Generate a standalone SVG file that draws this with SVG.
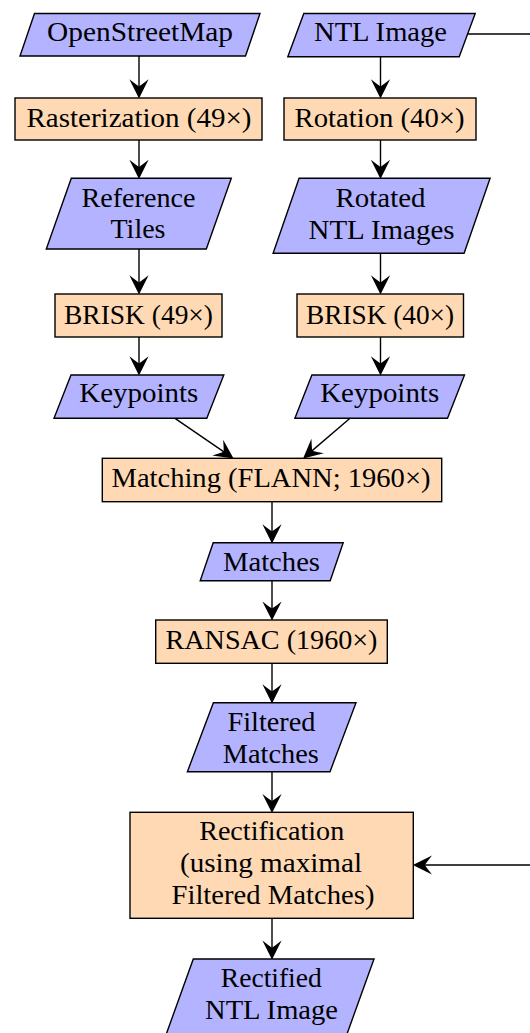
<svg xmlns="http://www.w3.org/2000/svg" width="530" height="1033" viewBox="0 0 530 1033">
  <style>
    .data { fill: #b3b3ff; stroke: #000; stroke-width: 1.4; stroke-linejoin: miter; }
    .proc { fill: #ffd9b3; stroke: #000; stroke-width: 1.4; }
    .lbl { font-family: "Liberation Serif", "Times New Roman", serif; font-size: 27px; fill: #000; text-anchor: middle; }
    .edge { fill: none; stroke: #000; stroke-width: 1.4; }
  </style>
  <defs>
    <marker id="head" markerUnits="userSpaceOnUse" markerWidth="24" markerHeight="24" viewBox="-16 -10 20 20" refX="0" refY="0" orient="auto">
      <path d="M2,0 L-14,-8 Q-10,-3 -8,0 Q-10,3 -14,8 Z" fill="#000"/>
    </marker>
  </defs>

  <!-- connectors -->
  <g id="connectors">
    <line class="edge" x1="139" y1="56" x2="139" y2="96" marker-end="url(#head)"/>
    <line class="edge" x1="139" y1="140" x2="139" y2="176.5" marker-end="url(#head)"/>
    <line class="edge" x1="139" y1="249" x2="139" y2="292" marker-end="url(#head)"/>
    <line class="edge" x1="139" y1="337" x2="139" y2="373" marker-end="url(#head)"/>

    <line class="edge" x1="380.5" y1="56.7" x2="380.5" y2="96" marker-end="url(#head)"/>
    <line class="edge" x1="380.5" y1="140" x2="380.5" y2="176.5" marker-end="url(#head)"/>
    <line class="edge" x1="380.5" y1="253.3" x2="380.5" y2="292" marker-end="url(#head)"/>
    <line class="edge" x1="380.5" y1="337" x2="380.5" y2="373" marker-end="url(#head)"/>

    <line class="edge" x1="175" y1="418.3" x2="231.6" y2="457.1" marker-end="url(#head)"/>
    <line class="edge" x1="350" y1="418.3" x2="304.9" y2="456.9" marker-end="url(#head)"/>

    <line class="edge" x1="272" y1="501.7" x2="272" y2="541" marker-end="url(#head)"/>
    <line class="edge" x1="272" y1="580.7" x2="272" y2="618.2" marker-end="url(#head)"/>
    <line class="edge" x1="272" y1="663.3" x2="272" y2="701" marker-end="url(#head)"/>
    <line class="edge" x1="272" y1="771.7" x2="272" y2="810.7" marker-end="url(#head)"/>
    <line class="edge" x1="272" y1="918.3" x2="272" y2="957.3" marker-end="url(#head)"/>

    <!-- side path from the NTL image around to rectification -->
    <line class="edge" x1="467.5" y1="34" x2="531" y2="34"/>
    <line class="edge" x1="531" y1="865" x2="415.2" y2="865" marker-end="url(#head)"/>
  </g>

  <g id="osm">
    <polygon class="data" points="34.5,13.5 260,13.5 245.5,56 20,56"/>
    <text class="lbl" x="140" y="40.5" textLength="186" lengthAdjust="spacingAndGlyphs">OpenStreetMap</text>
  </g>
  <g id="ntl-image">
    <polygon class="data" points="303.8,13.5 475.2,13.5 459.2,56.7 287.8,56.7"/>
    <text class="lbl" x="380.5" y="40.5" textLength="133" lengthAdjust="spacingAndGlyphs">NTL Image</text>
  </g>

  <g id="rasterization">
    <rect class="proc" x="15" y="98" width="247" height="42"/>
    <text class="lbl" x="139" y="127" textLength="225" lengthAdjust="spacingAndGlyphs">Rasterization (49×)</text>
  </g>
  <g id="rotation">
    <rect class="proc" x="284" y="98" width="192" height="42"/>
    <text class="lbl" x="379.5" y="127" textLength="170" lengthAdjust="spacingAndGlyphs">Rotation (40×)</text>
  </g>

  <g id="reference-tiles">
    <polygon class="data" points="71.3,178.3 231.3,178.3 206.3,249 46.3,249"/>
    <text class="lbl" x="138.5" y="206.7" textLength="114" lengthAdjust="spacingAndGlyphs">Reference</text>
    <text class="lbl" x="138" y="238.3" textLength="55" lengthAdjust="spacingAndGlyphs">Tiles</text>
  </g>
  <g id="rotated-images">
    <polygon class="data" points="299.1,178.3 490.1,178.3 464.1,253.3 273.1,253.3"/>
    <text class="lbl" x="380.5" y="206.5" textLength="90" lengthAdjust="spacingAndGlyphs">Rotated</text>
    <text class="lbl" x="381.5" y="238.5" textLength="146" lengthAdjust="spacingAndGlyphs">NTL Images</text>
  </g>

  <g id="brisk-ref">
    <rect class="proc" x="55" y="294" width="167" height="43"/>
    <text class="lbl" x="138.5" y="323.5" textLength="149" lengthAdjust="spacingAndGlyphs">BRISK (49×)</text>
  </g>
  <g id="brisk-ntl">
    <rect class="proc" x="297" y="294" width="166.5" height="43"/>
    <text class="lbl" x="380" y="323.5" textLength="148" lengthAdjust="spacingAndGlyphs">BRISK (40×)</text>
  </g>

  <g id="keypoints-ref">
    <polygon class="data" points="71,375 223.8,375 206.8,418.3 54,418.3"/>
    <text class="lbl" x="138.8" y="401.5" textLength="119" lengthAdjust="spacingAndGlyphs">Keypoints</text>
  </g>
  <g id="keypoints-ntl">
    <polygon class="data" points="311.9,375 464.5,375 447.5,418.3 294.9,418.3"/>
    <text class="lbl" x="379.7" y="401.5" textLength="119" lengthAdjust="spacingAndGlyphs">Keypoints</text>
  </g>

  <g id="matching">
    <rect class="proc" x="102.3" y="458.3" width="339.4" height="43.4"/>
    <text class="lbl" x="271" y="487" textLength="319" lengthAdjust="spacingAndGlyphs">Matching (FLANN; 1960×)</text>
  </g>

  <g id="matches">
    <polygon class="data" points="213.2,542.7 343.2,542.7 330.2,580.7 200.2,580.7"/>
    <text class="lbl" x="271.5" y="570.7" textLength="97" lengthAdjust="spacingAndGlyphs">Matches</text>
  </g>

  <g id="ransac">
    <rect class="proc" x="155.7" y="620" width="231.6" height="43.3"/>
    <text class="lbl" x="271.5" y="648.5" textLength="212" lengthAdjust="spacingAndGlyphs">RANSAC (1960×)</text>
  </g>

  <g id="filtered-matches">
    <polygon class="data" points="213.4,702.7 356,702.7 330,771.7 187.4,771.7"/>
    <text class="lbl" x="271.5" y="730.7" textLength="88" lengthAdjust="spacingAndGlyphs">Filtered</text>
    <text class="lbl" x="270.8" y="762.7" textLength="96" lengthAdjust="spacingAndGlyphs">Matches</text>
  </g>

  <g id="rectification">
    <rect class="proc" x="130" y="812.3" width="283.3" height="106"/>
    <text class="lbl" x="271.7" y="840" textLength="145" lengthAdjust="spacingAndGlyphs">Rectification</text>
    <text class="lbl" x="271" y="871.7" textLength="182" lengthAdjust="spacingAndGlyphs">(using maximal</text>
    <text class="lbl" x="273" y="904" textLength="203" lengthAdjust="spacingAndGlyphs">Filtered Matches)</text>
  </g>

  <g id="rectified-image">
    <polygon class="data" points="193.3,959 374,959 347,1034 166.3,1034"/>
    <text class="lbl" x="271.3" y="986.5" textLength="101" lengthAdjust="spacingAndGlyphs">Rectified</text>
    <text class="lbl" x="271.5" y="1018.5" textLength="133" lengthAdjust="spacingAndGlyphs">NTL Image</text>
  </g>
</svg>
